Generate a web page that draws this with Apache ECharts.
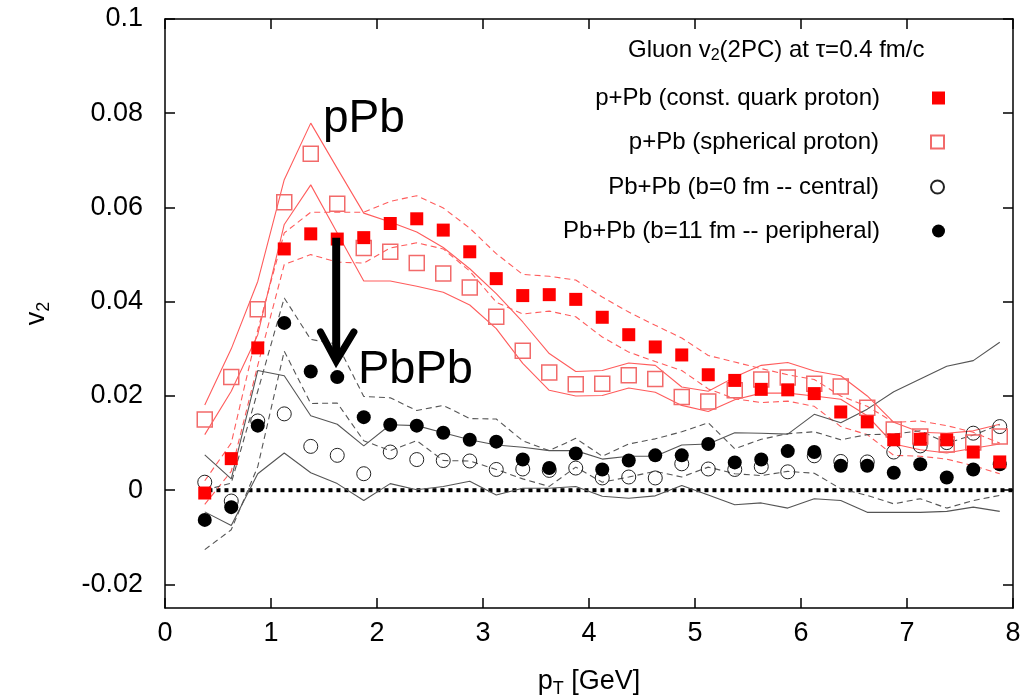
<!DOCTYPE html>
<html>
<head>
<meta charset="utf-8">
<script src="https://cdn.jsdelivr.net/npm/echarts@6/dist/echarts.min.js"></script>
<style>
  html, body { margin: 0; padding: 0; background: #fff; }
  #chart { width: 1026px; height: 700px; }
</style>
</head>
<body>
<div id="chart"></div>
<script>
// pT bin centres [GeV]
const pT = [0.375, 0.625, 0.875, 1.125, 1.375, 1.625, 1.875, 2.125, 2.375, 2.625,
  2.875, 3.125, 3.375, 3.625, 3.875, 4.125, 4.375, 4.625, 4.875, 5.125,
  5.375, 5.625, 5.875, 6.125, 6.375, 6.625, 6.875, 7.125, 7.375, 7.625, 7.875];

// p+Pb (const. quark proton) - filled squares, dashed red band
const constQuark = [-0.0006, 0.0067, 0.0302, 0.0512, 0.0544, 0.0533, 0.0536, 0.0566, 0.0576, 0.0552,
  0.0506, 0.0449, 0.0413, 0.0415, 0.0405, 0.0367, 0.0330, 0.0304, 0.0287, 0.0245,
  0.0233, 0.0214, 0.0213, 0.0205, 0.0166, 0.0145, 0.0107, 0.0108, 0.0107, 0.0081, 0.0060];
const constQuarkHi = [0.0020, 0.0100, 0.0340, 0.0546, 0.0590, 0.0590, 0.0590, 0.0613, 0.0625, 0.0599,
  0.0556, 0.0502, 0.0458, 0.0454, 0.0446, 0.0410, 0.0378, 0.0350, 0.0323, 0.0286,
  0.0272, 0.0258, 0.0245, 0.0235, 0.0200, 0.0178, 0.0144, 0.0147, 0.0137, 0.0123, 0.0100];
const constQuarkLo = [-0.0030, 0.0040, 0.0265, 0.0479, 0.0500, 0.0484, 0.0482, 0.0514, 0.0525, 0.0512,
  0.0465, 0.0399, 0.0374, 0.0380, 0.0368, 0.0325, 0.0293, 0.0273, 0.0254, 0.0215,
  0.0194, 0.0186, 0.0189, 0.0178, 0.0135, 0.0118, 0.0074, 0.0072, 0.0066, 0.0052, 0.0035];

// p+Pb (spherical proton) - open squares, solid red band
const spherical = [0.0150, 0.0240, 0.0384, 0.0611, 0.0714, 0.0608, 0.0514, 0.0506, 0.0482, 0.0460,
  0.0430, 0.0368, 0.0296, 0.0250, 0.0225, 0.0226, 0.0244, 0.0236, 0.0198, 0.0188,
  0.0212, 0.0235, 0.0239, 0.0226, 0.0220, 0.0175, 0.0129, 0.0114, 0.0097, 0.0101, 0.0114];
const sphericalHi = [0.0181, 0.0300, 0.0443, 0.0659, 0.0779, 0.0683, 0.0588, 0.0569, 0.0548, 0.0515,
  0.0470, 0.0417, 0.0357, 0.0290, 0.0252, 0.0254, 0.0270, 0.0265, 0.0219, 0.0210,
  0.0240, 0.0265, 0.0271, 0.0253, 0.0243, 0.0200, 0.0144, 0.0123, 0.0121, 0.0126, 0.0140];
const sphericalLo = [0.0118, 0.0210, 0.0330, 0.0564, 0.0648, 0.0546, 0.0444, 0.0444, 0.0433, 0.0420,
  0.0393, 0.0343, 0.0269, 0.0212, 0.0200, 0.0201, 0.0217, 0.0208, 0.0180, 0.0167,
  0.0192, 0.0206, 0.0206, 0.0200, 0.0193, 0.0158, 0.0098, 0.0086, 0.0079, 0.0089, 0.0098];

// Pb+Pb b=0 fm (central) - open circles, solid grey band
const central = [0.0017, -0.0023, 0.0147, 0.0162, 0.0093, 0.0074, 0.0035, 0.0081, 0.0065, 0.0063,
  0.0062, 0.0044, 0.0045, 0.0042, 0.0047, 0.0026, 0.0028, 0.0026, 0.0056, 0.0045,
  0.0044, 0.0050, 0.0039, 0.0073, 0.0061, 0.0060, 0.0081, 0.0094, 0.0101, 0.0121, 0.0135];
const centralHi = [0.0075, 0.0024, 0.0254, 0.0243, 0.0158, 0.0140, 0.0094, 0.0139, 0.0137, 0.0122,
  0.0107, 0.0096, 0.0091, 0.0084, 0.0084, 0.0066, 0.0072, 0.0072, 0.0096, 0.0098,
  0.0122, 0.0121, 0.0119, 0.0161, 0.0143, 0.0172, 0.0209, 0.0236, 0.0263, 0.0275, 0.0314];
const centralLo = [-0.0046, -0.0075, 0.0035, 0.0079, 0.0037, 0.0014, -0.0022, 0.0014, 0.0001, 0.0008,
  0.0019, -0.0010, 0.0004, 0.0004, 0.0008, -0.0013, -0.0017, -0.0012, 0.0010, -0.0010,
  -0.0031, -0.0027, -0.0038, -0.0018, -0.0022, -0.0047, -0.0047, -0.0047, -0.0045, -0.0036, -0.0045];

// Pb+Pb b=11 fm (peripheral) - filled circles, dashed grey band
const peripheral = [-0.0063, -0.0036, 0.0137, 0.0355, 0.0252, 0.0240, 0.0155, 0.0139, 0.0137, 0.0122,
  0.0107, 0.0103, 0.0065, 0.0047, 0.0078, 0.0044, 0.0063, 0.0074, 0.0074, 0.0098,
  0.0059, 0.0065, 0.0083, 0.0081, 0.0052, 0.0052, 0.0037, 0.0055, 0.0027, 0.0044, 0.0055];
const peripheralHi = [0.0000, 0.0015, 0.0210, 0.0408, 0.0320, 0.0310, 0.0199, 0.0196, 0.0169, 0.0180,
  0.0152, 0.0151, 0.0105, 0.0084, 0.0110, 0.0072, 0.0098, 0.0109, 0.0124, 0.0143,
  0.0088, 0.0108, 0.0120, 0.0124, 0.0107, 0.0118, 0.0119, 0.0126, 0.0100, 0.0117, 0.0139];
const peripheralLo = [-0.0126, -0.0084, 0.0050, 0.0295, 0.0184, 0.0185, 0.0105, 0.0084, 0.0105, 0.0063,
  0.0062, 0.0044, 0.0024, 0.0008, 0.0049, 0.0017, 0.0028, 0.0040, 0.0028, 0.0049,
  0.0035, 0.0031, 0.0040, 0.0036, 0.0003, -0.0011, -0.0029, -0.0018, -0.0038, -0.0022, -0.0011];

const yTicks = [-0.02, 0, 0.02, 0.04, 0.06, 0.08, 0.1];
const zeroLine = [[0.41, 0], [8, 0]];
const arrowShaft = [[1.615, 0.0536], [1.615, 0.0285]];
const arrowHead = [[1.467, 0.0336], [1.615, 0.0274], [1.782, 0.0336]];

const names = [
  'p+Pb (const. quark proton)',
  'p+Pb (spherical proton)',
  'Pb+Pb (b=0 fm -- central)',
  'Pb+Pb (b=11 fm -- peripheral)'
];

const FONT = "'Liberation Sans', Arial, Helvetica, sans-serif";
const pairs = (ys) => pT.map((x, i) => [x, ys[i]]);

const RED_LINE = '#ff5c5c';
const GREY_LINE = '#555';
const AXIS_LINE = { onZero: false, lineStyle: { color: '#000', width: 1.5 } };

const band = (ys, color, dashed) => ({
  type: 'line',
  data: pairs(ys),
  showSymbol: false,
  silent: true,
  z: 2,
  lineStyle: { color, width: 1.1, type: dashed ? [6, 4] : 'solid' }
});

const chart = echarts.init(document.getElementById('chart'));

const legendAt = (name, top) => ({
  data: [name],
  orient: 'vertical',
  right: 81,
  top,
  padding: 0,
  align: 'right',
  itemWidth: 13,
  itemHeight: 13,
  selectedMode: false,
  textStyle: {
    fontFamily: FONT,
    fontSize: 24,
    lineHeight: 24,
    color: '#000',
    padding: [0, 47, 0, 0]
  }
});

chart.setOption({
  animation: false,
  backgroundColor: '#fff',
  grid: { left: 165, right: 13, top: 19, bottom: 92, outerBoundsMode: 'none' },
  legend: [
    legendAt(names[0], 86),
    legendAt(names[1], 130),
    legendAt(names[2], 175),
    legendAt(names[3], 219)
  ],
  xAxis: [
    {
      type: 'value', min: 0, max: 8, interval: 1,
      name: '{a|p}{s|T}{a| [GeV]}',
      nameLocation: 'middle', nameGap: 58,
      nameTextStyle: {
        rich: {
          a: { fontFamily: FONT, fontSize: 27, color: '#000' },
          s: { fontFamily: FONT, fontSize: 18, color: '#000', padding: [14, 0, 0, 0] }
        }
      },
      axisLine: AXIS_LINE,
      axisTick: { inside: true, length: 10, lineStyle: { color: '#000', width: 1.5 } },
      axisLabel: { fontFamily: FONT, fontSize: 27, color: '#000', margin: 12 },
      splitLine: { show: false }
    },
    {
      type: 'value', min: 0, max: 8, interval: 1, position: 'top',
      axisLine: { show: true, ...AXIS_LINE },
      axisTick: { inside: true, length: 10, lineStyle: { color: '#000', width: 1.5 } },
      axisLabel: { show: false },
      splitLine: { show: false }
    }
  ],
  yAxis: [
    {
      type: 'value', min: -0.025, max: 0.1,
      name: '{a|v}{s|2}',
      nameLocation: 'middle', nameGap: 112, nameRotate: 90,
      nameTextStyle: {
        rich: {
          a: { fontFamily: FONT, fontSize: 27, color: '#000' },
          s: { fontFamily: FONT, fontSize: 18, color: '#000', padding: [14, 0, 0, 0] }
        }
      },
      axisLine: { show: true, ...AXIS_LINE },
      axisTick: { inside: true, length: 10, customValues: yTicks, lineStyle: { color: '#000', width: 1.5 } },
      axisLabel: {
        fontFamily: FONT, fontSize: 27, color: '#000', margin: 22,
        customValues: yTicks,
        formatter: (v) => String(Math.round(v * 100) / 100)
      },
      splitLine: { show: false }
    },
    {
      type: 'value', min: -0.025, max: 0.1, position: 'right',
      axisLine: { show: true, ...AXIS_LINE },
      axisTick: { show: true, inside: true, length: 10, customValues: yTicks, lineStyle: { color: '#000', width: 1.5 } },
      axisLabel: { show: false },
      splitLine: { show: false }
    }
  ],
  graphic: [
    {
      type: 'text', left: 628, top: 38, silent: true,
      style: {
        text: '{a|Gluon v}{s|2}{a|(2PC) at τ=0.4 fm/c}',
        rich: {
          a: { fontFamily: FONT, fontSize: 24, fill: '#000' },
          s: { fontFamily: FONT, fontSize: 16, fill: '#000', padding: [11, 0, 0, 0] }
        }
      }
    },
    {
      type: 'text', left: 323, top: 96, silent: true,
      style: { text: 'pPb', fontFamily: FONT, fontSize: 46, fill: '#000' }
    },
    {
      type: 'text', left: 358, top: 347, silent: true,
      style: { text: 'PbPb', fontFamily: FONT, fontSize: 47, fill: '#000' }
    }
  ],
  series: [
    {
      type: 'line', data: zeroLine, showSymbol: false, silent: true, z: 2,
      lineStyle: { color: '#000', width: 4, type: [4, 4] }
    },
    band(constQuarkHi, RED_LINE, true),
    band(constQuarkLo, RED_LINE, true),
    band(sphericalHi, RED_LINE, false),
    band(sphericalLo, RED_LINE, false),
    band(centralHi, GREY_LINE, false),
    band(centralLo, GREY_LINE, false),
    band(peripheralHi, GREY_LINE, true),
    band(peripheralLo, GREY_LINE, true),
    {
      name: names[2], type: 'scatter', data: pairs(central), z: 3,
      symbol: 'circle', symbolSize: 14,
      itemStyle: { color: 'rgba(255,255,255,0)', borderColor: '#222', borderWidth: 1, opacity: 1 }
    },
    {
      name: names[3], type: 'scatter', data: pairs(peripheral), z: 3,
      symbol: 'circle', symbolSize: 14,
      itemStyle: { color: '#000', opacity: 1 }
    },
    {
      name: names[1], type: 'scatter', data: pairs(spherical), z: 3,
      symbol: 'rect', symbolSize: 15,
      itemStyle: { color: 'rgba(255,255,255,0)', borderColor: '#f26a6a', borderWidth: 1.5, opacity: 1 }
    },
    {
      name: names[0], type: 'scatter', data: pairs(constQuark), z: 3,
      symbol: 'rect', symbolSize: 13,
      itemStyle: { color: '#ff0000', opacity: 1 }
    },
    {
      type: 'line', data: arrowShaft, showSymbol: false, silent: true, z: 4,
      lineStyle: { color: '#000', width: 8, cap: 'butt' }
    },
    {
      type: 'line', data: arrowHead, showSymbol: false, silent: true, z: 4,
      lineStyle: { color: '#000', width: 7, cap: 'round', join: 'miter' }
    }
  ]
});
</script>
</body>
</html>
